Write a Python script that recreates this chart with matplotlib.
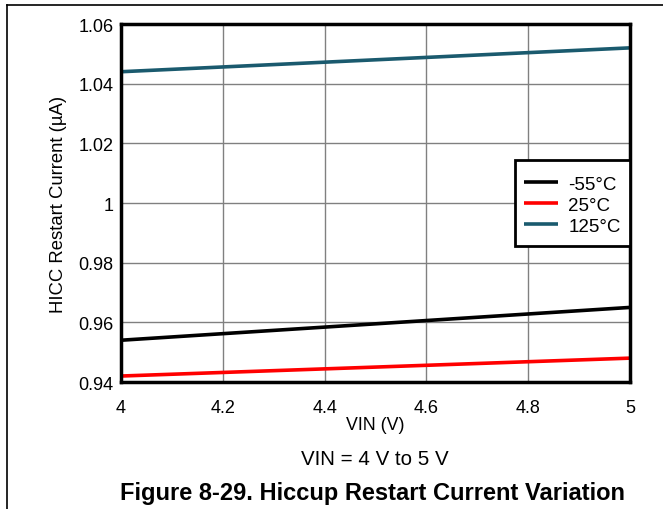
import matplotlib.pyplot as plt
from matplotlib.lines import Line2D
from matplotlib.patches import Rectangle

plt.rcParams['font.family'] = ['Liberation Sans', 'DejaVu Sans']

# Data
vin = [4.0, 5.0]
i_m55 = [0.954, 0.965]
i_25 = [0.942, 0.948]
i_125 = [1.044, 1.052]
labels = ['-55°C', '25°C', '125°C']
colors = ['black', '#ff0000', '#1a5a6e']

xticks = [4, 4.2, 4.4, 4.6, 4.8, 5]
xticklabels = ['4', '4.2', '4.4', '4.6', '4.8', '5']
yticks = [0.94, 0.96, 0.98, 1.0, 1.02, 1.04, 1.06]
yticklabels = ['0.94', '0.96', '0.98', '1', '1.02', '1.04', '1.06']

fig = plt.figure(figsize=(6.63, 5.10), dpi=100)
ax = fig.add_axes([121 / 663, 1 - 383 / 510, 509 / 663, 358 / 510])

for y, lab, c in zip([i_m55, i_25, i_125], labels, colors):
    ax.plot(vin, y, color=c, lw=2.6, label=lab, solid_capstyle='butt')

ax.set_xlim(4, 5)
ax.set_ylim(0.94, 1.06)
ax.set_xticks(xticks)
ax.set_xticklabels(xticklabels)
ax.set_yticks(yticks)
ax.set_yticklabels(yticklabels)
ax.tick_params(length=0, labelsize=13)
ax.tick_params(axis='y', pad=5.5)
ax.tick_params(axis='x', pad=12)
ax.grid(True, color='#808080', lw=1)
for s in ax.spines.values():
    s.set_linewidth(2.5)
ax.set_xlabel('VIN (V)', fontsize=12.8, labelpad=0)
ax.set_ylabel('HICC Restart Current (µA)', fontsize=13.3, labelpad=8)

# legend box drawn separately so its padding can match
box_x0, box_y0, box_y1 = 0.774, 0.380, 0.620
ax.add_patch(Rectangle((box_x0, box_y0), 1 - box_x0, box_y1 - box_y0,
                       transform=ax.transAxes, facecolor='white', edgecolor='black',
                       lw=2, zorder=4.5, clip_on=False))
leg = ax.legend(loc='center', bbox_to_anchor=((box_x0 + 1) / 2, (box_y0 + box_y1) / 2 - 0.006),
                fontsize=13.5, frameon=False, handlelength=1.8, handletextpad=0.55,
                labelspacing=0.2, borderpad=0, borderaxespad=0)
leg.set_zorder(5)

fig.text(375 / 663, 1 - 460 / 510, 'VIN = 4 V to 5 V', ha='center', va='center', fontsize=14.8)
fig.text(372 / 663, 1 - 494 / 510, 'Figure 8-29. Hiccup Restart Current Variation',
         ha='center', va='center', fontsize=17, fontweight='bold')

# outer frame lines
fig.add_artist(Line2D([7 / 663, 7 / 663], [0, 1 - 6 / 510], color='black', lw=1.2))
fig.add_artist(Line2D([7 / 663, 1], [1 - 6 / 510, 1 - 6 / 510], color='black', lw=1.2))

fig.savefig('out.png', dpi=100)
